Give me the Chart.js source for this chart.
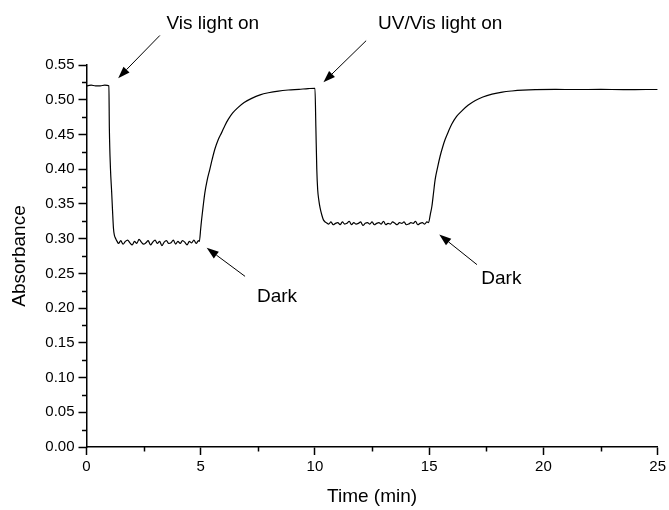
<!DOCTYPE html>
<html>
<head>
<meta charset="utf-8">
<script src="https://cdn.jsdelivr.net/npm/chart.js@4/dist/chart.umd.min.js"></script>
<style>
  html, body { margin: 0; padding: 0; background: #fff; }
  canvas { display: block; }
</style>
</head>
<body>
<canvas id="chart" width="669" height="510"></canvas>
<script>
// absorbance trace
const timeMin = [
  0, 0.2, 0.4, 0.6, 0.8, 0.98,
  1.00, 1.05, 1.10, 1.14, 1.18, 1.22, 1.28, 1.34,
  1.4, 1.5, 1.6, 1.7, 1.8, 1.9, 2.0, 2.1, 2.2, 2.3, 2.4, 2.5, 2.6, 2.7, 2.8, 2.9,
  3.0, 3.1, 3.2, 3.3, 3.4, 3.5, 3.6, 3.7, 3.8, 3.9, 4.0, 4.1, 4.2, 4.3, 4.4, 4.5,
  4.6, 4.7, 4.8, 4.9,
  4.94, 5.00, 5.04, 5.10, 5.18, 5.28, 5.40, 5.50, 5.62, 5.76, 5.92, 6.06, 6.21,
  6.40, 6.64, 6.90, 7.23, 7.60, 7.96, 8.40, 8.83, 9.30, 9.70, 10.00,
  10.04, 10.08, 10.12, 10.17, 10.22, 10.30, 10.37, 10.45,
  10.5, 10.6, 10.7, 10.8, 10.9, 11.0, 11.1, 11.2, 11.3, 11.4, 11.5, 11.6, 11.7, 11.8,
  11.9, 12.0, 12.1, 12.2, 12.3, 12.4, 12.5, 12.6, 12.7, 12.8, 12.9, 13.0, 13.1, 13.2,
  13.3, 13.4, 13.5, 13.6, 13.7, 13.8, 13.9, 14.0, 14.1, 14.2, 14.3, 14.4, 14.5, 14.6,
  14.7, 14.8, 14.9,
  14.97, 15.05, 15.12, 15.19, 15.26, 15.37, 15.48, 15.59, 15.70, 15.85, 15.99, 16.20,
  16.43, 16.70, 17.02, 17.35, 17.75, 18.20, 18.62, 19.10, 19.65, 20.50, 21.50, 22.50,
  23.50, 24.50, 25.00
];

const absorbance = [
  0.520, 0.521, 0.520, 0.520, 0.521, 0.520,
  0.460, 0.400, 0.368, 0.340, 0.315, 0.305, 0.300, 0.296,
  0.293, 0.297, 0.292, 0.296, 0.298, 0.294, 0.291, 0.296, 0.293, 0.299, 0.295, 0.292,
  0.294, 0.297, 0.291, 0.295, 0.298, 0.293, 0.296, 0.290, 0.295, 0.297, 0.293, 0.294,
  0.298, 0.292, 0.296, 0.293, 0.297, 0.295, 0.291, 0.296, 0.294, 0.298, 0.293, 0.297,
  0.296, 0.315, 0.328, 0.345, 0.366, 0.384, 0.400, 0.414, 0.429, 0.442, 0.453, 0.463, 0.472,
  0.481, 0.489, 0.496, 0.502, 0.507, 0.510, 0.5125, 0.514, 0.515, 0.516, 0.5165,
  0.460, 0.400, 0.370, 0.355, 0.345, 0.334, 0.327, 0.324,
  0.323, 0.321, 0.324, 0.320, 0.322, 0.323, 0.320, 0.324, 0.321, 0.322, 0.325, 0.320,
  0.323, 0.321, 0.322, 0.324, 0.319, 0.322, 0.323, 0.321, 0.324, 0.320, 0.322, 0.323,
  0.321, 0.325, 0.320, 0.322, 0.321, 0.324, 0.322, 0.320, 0.323, 0.322, 0.324, 0.320,
  0.321, 0.323, 0.322, 0.325, 0.320, 0.322, 0.323, 0.321, 0.324,
  0.323, 0.335, 0.347, 0.366, 0.385, 0.403, 0.419, 0.432, 0.443, 0.455, 0.465, 0.476,
  0.484, 0.492, 0.499, 0.504, 0.508, 0.511, 0.5126, 0.5138, 0.5145, 0.5148, 0.5147, 0.5148,
  0.5146, 0.5147, 0.5147
];

const xTicks = [0, 5, 10, 15, 20, 25];
const xMinorTicks = [2.5, 7.5, 12.5, 17.5, 22.5];
const yMinorTicks = [0.025, 0.075, 0.125, 0.175, 0.225, 0.275, 0.325, 0.375, 0.425, 0.475, 0.525];

// callouts: arrow tip, arrow tail and label centre, all in data units
const calloutLabels = ['Vis light on', 'UV/Vis light on', 'Dark', 'Dark'];
const calloutTips = [[1.385, 0.531], [10.37, 0.525], [5.26, 0.2867], [15.44, 0.306]];
const calloutTails = [[3.21, 0.5925], [12.24, 0.585], [6.94, 0.2457], [17.09, 0.2626]];
const calloutText = [[5.53, 0.609], [15.48, 0.609], [8.34, 0.2163], [18.16, 0.2423]];

const FONT = "'Liberation Sans', Arial, sans-serif";

const points = timeMin.map((t, i) => ({ x: t, y: absorbance[i] }));

const extrasPlugin = {
    id: 'extras',
    afterDraw(chart) {
        const ctx = chart.ctx;
        const xs = chart.scales.x;
        const ys = chart.scales.y;
        ctx.save();
        ctx.strokeStyle = '#000';
        ctx.lineWidth = 1.5;

        // minor ticks
        const bottom = ys.getPixelForValue(0);
        xMinorTicks.forEach(v => {
            const px = Math.round(xs.getPixelForValue(v)) + 0.5;
            ctx.beginPath();
            ctx.moveTo(px, bottom);
            ctx.lineTo(px, bottom + 4.5);
            ctx.stroke();
        });
        const left = xs.getPixelForValue(0);
        yMinorTicks.forEach(v => {
            const py = Math.round(ys.getPixelForValue(v)) + 0.5;
            ctx.beginPath();
            ctx.moveTo(left, py);
            ctx.lineTo(left - 4.5, py);
            ctx.stroke();
        });

        // callout arrows and text
        ctx.lineWidth = 1;
        ctx.fillStyle = '#000';
        calloutLabels.forEach((label, i) => {
            const tx = xs.getPixelForValue(calloutTips[i][0]);
            const ty = ys.getPixelForValue(calloutTips[i][1]);
            const sx = xs.getPixelForValue(calloutTails[i][0]);
            const sy = ys.getPixelForValue(calloutTails[i][1]);
            const ang = Math.atan2(ty - sy, tx - sx);
            const headLen = 12, headW = 4.2;
            const bx = tx - headLen * Math.cos(ang);
            const by = ty - headLen * Math.sin(ang);
            ctx.beginPath();
            ctx.moveTo(sx, sy);
            ctx.lineTo(bx, by);
            ctx.stroke();
            ctx.beginPath();
            ctx.moveTo(tx, ty);
            ctx.lineTo(bx + headW * Math.sin(ang), by - headW * Math.cos(ang));
            ctx.lineTo(bx - headW * Math.sin(ang), by + headW * Math.cos(ang));
            ctx.closePath();
            ctx.fill();

            ctx.font = '19px ' + FONT;
            ctx.textAlign = 'center';
            ctx.textBaseline = 'middle';
            ctx.fillText(label, xs.getPixelForValue(calloutText[i][0]), ys.getPixelForValue(calloutText[i][1]));
        });
        ctx.restore();
    }
};

new Chart(document.getElementById('chart').getContext('2d'), {
    type: 'line',
    data: {
        datasets: [{
            label: 'Absorbance',
            data: points,
            borderColor: '#000',
            borderWidth: 1.2,
            pointRadius: 0,
            fill: false,
            cubicInterpolationMode: 'monotone'
        }]
    },
    options: {
        responsive: false,
        animation: false,
        layout: { padding: { top: 65, right: 11, left: 0, bottom: 0 } },
        plugins: {
            legend: { display: false },
            tooltip: { enabled: false }
        },
        scales: {
            x: {
                type: 'linear',
                min: 0,
                max: 25,
                afterBuildTicks: s => { s.ticks = xTicks.map(v => ({ value: v })); },
                afterFit: s => { s.height = 63; },
                ticks: {
                    color: '#000',
                    font: { family: FONT, size: 15 },
                    padding: 3,
                    maxRotation: 0
                },
                grid: {
                    drawOnChartArea: false,
                    drawTicks: true,
                    tickLength: 8,
                    tickColor: '#000',
                    tickWidth: 1.5
                },
                border: { color: '#000', width: 1.5 },
                title: {
                    display: true,
                    text: 'Time (min)',
                    color: '#000',
                    font: { family: FONT, size: 19 },
                    padding: { top: 0, bottom: 2 }
                }
            },
            y: {
                min: 0,
                max: 0.55,
                afterFit: s => { s.width = 86.5; },
                ticks: {
                    stepSize: 0.05,
                    color: '#000',
                    font: { family: FONT, size: 15 },
                    padding: 4,
                    callback: v => v.toFixed(2)
                },
                grid: {
                    drawOnChartArea: false,
                    drawTicks: true,
                    tickLength: 8,
                    tickColor: '#000',
                    tickWidth: 1.5
                },
                border: { color: '#000', width: 1.5 },
                title: {
                    display: true,
                    text: 'Absorbance',
                    color: '#000',
                    font: { family: FONT, size: 19 },
                    padding: { top: 8, bottom: 0 }
                }
            }
        }
    },
    plugins: [extrasPlugin]
});
</script>
</body>
</html>
